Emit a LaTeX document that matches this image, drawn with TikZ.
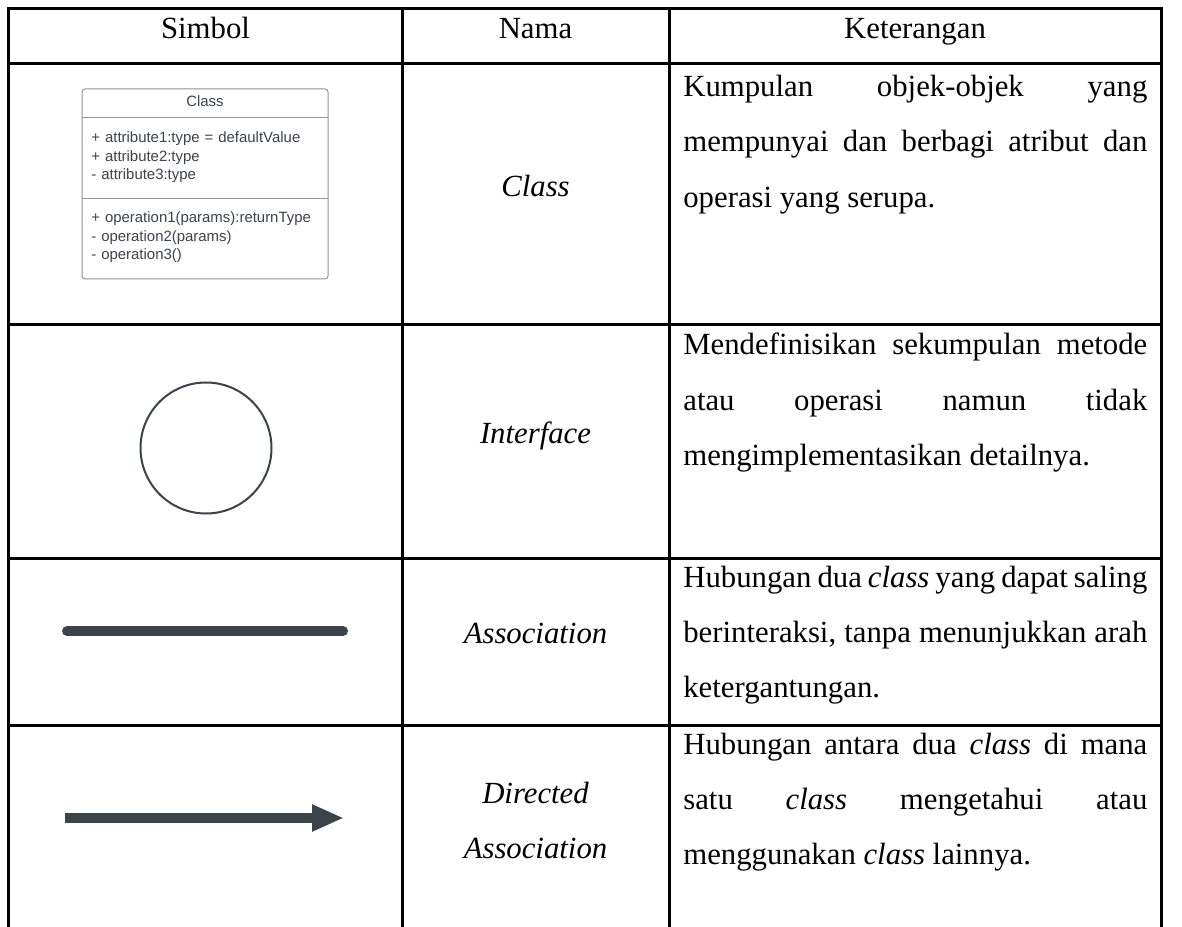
\documentclass[tikz,border=0pt]{standalone}
\usepackage{fontspec}
\setmainfont{Liberation Serif}
\newfontfamily\umlfont{Liberation Sans}
\usetikzlibrary{arrows.meta}
\definecolor{umlgray}{HTML}{3D434B}
\definecolor{umltext}{HTML}{3D434B}
\definecolor{umlline}{HTML}{8E939A}
\def\bigtext{\fontsize{17.5}{31.3}\selectfont}
\def\umltext{\umlfont\fontsize{8.5}{10.4}\selectfont\color{umltext}}

\begin{document}
\begin{tikzpicture}[
	tab/.style={line width=0.06cm, line cap=rect},
	head/.style={font=\bigtext, anchor=base, inner sep=0},
	nama/.style={font=\bigtext\itshape, anchor=base, inner sep=0, align=center, text width=5cm},
	ket/.style={font=\bigtext, anchor=base west, inner sep=0, align=justify, text width=9.28cm},
	umlbox/.style={draw=umlline, line width=0.02cm, rounded corners=0.06cm},
	umlrow/.style={font=\umltext, anchor=base west, inner sep=0, align=left, text width=4.6cm},
	assoc/.style={draw=umlgray, line width=0.2cm}
	]
			%%%%% START %%%%%
			\useasboundingbox[fill=white] (0, 0) rectangle (23.64, 18.52);
			
			% table lines
			\draw[tab] (0.18, 18.34) -- (23.22, 18.34);
			\draw[tab] (0.18, 17.24) -- (23.22, 17.24);
			\draw[tab] (0.18, 12.02) -- (23.22, 12.02);
			\draw[tab] (0.18, 7.36) -- (23.22, 7.36);
			\draw[tab] (0.18, 4.02) -- (23.22, 4.02);
			\foreach \x in {0.18, 8.04, 13.38, 23.22}
				\draw[tab] (\x, 18.34) -- (\x, -0.1);
			
			% header
			\node[head] (hdsimbol) at (4.11, 17.74) {Simbol};
			\node[head] (hdnama) at (10.71, 17.74) {Nama};
			\node[head] (hdket) at (18.3, 17.74) {Keterangan};
			
			% class box
			\draw[umlbox] (1.64, 12.94) rectangle (6.56, 16.74);
			\draw[draw=umlline, line width=0.02cm] (1.64, 16.16) -- (6.56, 16.16);
			\draw[draw=umlline, line width=0.02cm] (1.64, 14.54) -- (6.56, 14.54);
			\node[font=\umltext, anchor=base, inner sep=0] (clstitle) at (4.1, 16.38) {Class};
			\node[umlrow] (clsattr) at (1.82, 15.66) {+ attribute1:type = defaultValue\\+ attribute2:type\\- attribute3:type};
			\node[umlrow] (clsops) at (1.82, 14.06) {+ operation1(params):returnType\\- operation2(params)\\- operation3()};
			
			% interface
			\draw[umlgray, line width=0.04cm] (4.12, 9.56) circle (1.31);
			
			% association
			\coordinate (assocL) at (1.34, 5.9);
			\coordinate (assocR) at (6.86, 5.9);
			\draw[assoc, line cap=round] (assocL) -- (assocR);
			
			% directed association
			\coordinate (dirL) at (1.3, 2.16);
			\coordinate (dirR) at (6.88, 2.16);
			\draw[assoc, -{Triangle[length=0.64cm, width=0.5cm]}] (dirL) -- (dirR);
			
			% names
			\node[nama] (nmclass) at (10.71, 14.58) {Class};
			\node[nama] (nminterface) at (10.71, 9.66) {Interface};
			\node[nama] (nmassoc) at (10.71, 5.66) {Association};
			\node[nama] (nmdirected) at (10.71, 2.46) {Directed\\Association};
			
			% keterangan
			\node[ket] (ktclass) at (13.66, 16.58) {Kumpulan objek-objek yang\linebreak mempunyai dan berbagi atribut dan\linebreak operasi yang serupa.};
			\node[ket] (ktinterface) at (13.66, 11.42) {Mendefinisikan sekumpulan metode\linebreak atau operasi namun tidak\linebreak mengimplementasikan detailnya.};
			\node[ket] (ktassoc) at (13.66, 6.78) {Hubungan dua \textit{class} yang dapat saling\linebreak berinteraksi, tanpa menunjukkan arah\linebreak ketergantungan.};
			\node[ket] (ktdirected) at (13.66, 3.44) {Hubungan antara dua \textit{class} di mana\linebreak satu \textit{class} mengetahui atau\linebreak menggunakan \textit{class} lainnya.};
			%%%%% END %%%%%
		\end{tikzpicture}
\end{document}
